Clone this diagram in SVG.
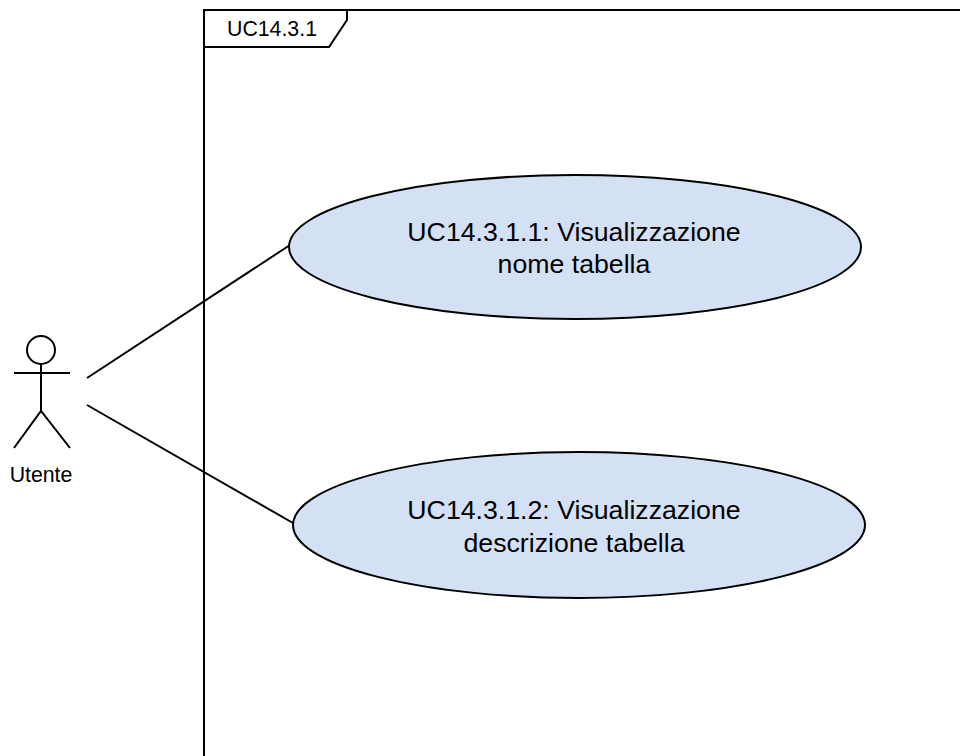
<svg xmlns="http://www.w3.org/2000/svg" width="960" height="756" viewBox="0 0 960 756">
<style>
.ln{fill:none;stroke:#000;stroke-width:2;stroke-linecap:butt}
.uc{fill:#d4e1f5;stroke:#000;stroke-width:2}
.t{font-family:"Liberation Sans",Arial,sans-serif;fill:#000;text-anchor:middle}
</style>
<rect width="960" height="756" fill="#fff"/>
<g id="frame">
<path class="ln" d="M204,770 L204,10 L980,10"/>
<path class="ln" d="M204,10 L347,10 L347,20 L329,47 L204,47"/>
<text class="t" x="272" y="36" font-size="21.3">UC14.3.1</text>
</g>
<g id="connectors">
<line class="ln" x1="87" y1="378" x2="290" y2="245"/>
<line class="ln" x1="87" y1="405" x2="293" y2="523"/>
</g>
<g id="actor">
<circle cx="41" cy="350" r="14" fill="#fff" stroke="#000" stroke-width="2"/>
<path class="ln" d="M41,364 L41,411 M14,373 L70,373 M14,448 L41,411 L70,448"/>
<text class="t" x="41" y="482" font-size="21.3">Utente</text>
</g>
<g id="uc1">
<ellipse class="uc" cx="575" cy="247" rx="286" ry="72"/>
<text class="t" x="574" y="241" font-size="26.7">UC14.3.1.1: Visualizzazione</text>
<text class="t" x="574" y="273" font-size="26.7">nome tabella</text>
</g>
<g id="uc2">
<ellipse class="uc" cx="579" cy="525" rx="286" ry="73"/>
<text class="t" x="574" y="519" font-size="26.7">UC14.3.1.2: Visualizzazione</text>
<text class="t" x="574" y="552" font-size="26.7">descrizione tabella</text>
</g>
</svg>
